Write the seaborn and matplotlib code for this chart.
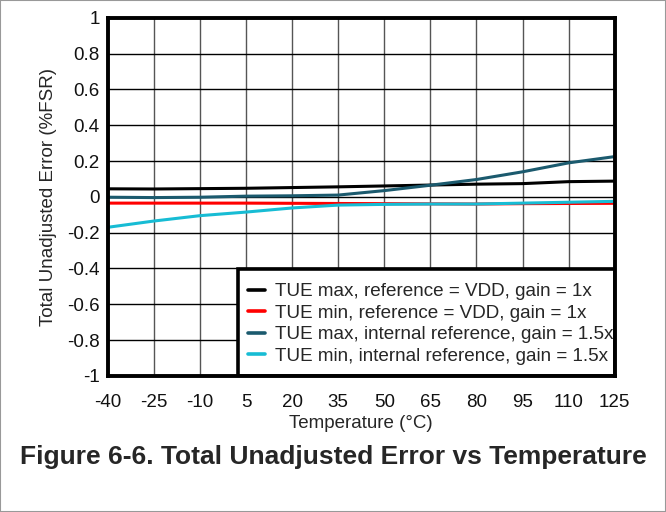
import numpy as np
import pandas as pd
import matplotlib
matplotlib.use("Agg")
import matplotlib.pyplot as plt
import seaborn as sns
from matplotlib.patches import Rectangle

temps = [-40, -25, -10, 5, 20, 35, 50, 65, 80, 95, 110, 125]
tue_max_vdd = [0.045, 0.044, 0.046, 0.048, 0.052, 0.056, 0.061, 0.066, 0.071, 0.074, 0.085, 0.088]
tue_min_vdd = [-0.035, -0.035, -0.035, -0.035, -0.036, -0.037, -0.038, -0.039, -0.040, -0.038, -0.037, -0.036]
tue_max_int = [-0.002, -0.004, -0.002, 0.004, 0.006, 0.010, 0.035, 0.065, 0.097, 0.140, 0.190, 0.225]
tue_min_int = [-0.170, -0.135, -0.105, -0.085, -0.062, -0.046, -0.042, -0.040, -0.040, -0.035, -0.030, -0.025]

labels = ["TUE max, reference = VDD, gain = 1x",
          "TUE min, reference = VDD, gain = 1x",
          "TUE max, internal reference, gain = 1.5x",
          "TUE min, internal reference, gain = 1.5x"]
colors = ["#000000", "#ff0000", "#1b5a6e", "#17bcd4"]
ytick_labels = ["-1", "-0.8", "-0.6", "-0.4", "-0.2", "0", "0.2", "0.4", "0.6", "0.8", "1"]
yticks = [-1, -0.8, -0.6, -0.4, -0.2, 0, 0.2, 0.4, 0.6, 0.8, 1]

df = pd.concat([
    pd.DataFrame({"Temperature": temps, "TUE": vals, "Series": lab})
    for vals, lab in zip([tue_max_vdd, tue_min_vdd, tue_max_int, tue_min_int], labels)
])

sns.set_theme(style="white")
plt.rcParams['font.family'] = ['Liberation Sans', 'DejaVu Sans']

fig = plt.figure(figsize=(6.66, 5.12), dpi=100)
ax = fig.add_axes([0.162, 0.266, 0.761, 0.699])

sns.lineplot(data=df, x="Temperature", y="TUE", hue="Series", hue_order=labels,
             palette=colors, linewidth=2.2, ax=ax, legend=True, zorder=3)

ax.set_xlim(-40, 125)
ax.set_ylim(-1, 1)
ax.set_xticks(temps)
ax.set_xticklabels([str(t) for t in temps])
ax.set_yticks(yticks)
ax.set_yticklabels(ytick_labels)
ax.tick_params(axis='both', labelsize=13.5, length=0, colors='#111111')
ax.tick_params(axis='x', pad=13)
ax.tick_params(axis='y', pad=6)
ax.grid(True, axis='y', color='#000000', linewidth=1.0)
ax.grid(True, axis='x', color='#555555', linewidth=1.0)
ax.set_axisbelow(True)
for s in ax.spines.values():
    s.set_color('black')
    s.set_linewidth(2.8)
    s.set_zorder(6)

ax.set_xlabel("Temperature (°C)", fontsize=13.5, labelpad=3)
ax.set_ylabel("Total Unadjusted Error (%FSR)", fontsize=13.5, labelpad=7)

# legend box (white, thick black frame) in the lower-right of the plot
box = Rectangle((2.3, -1.0), 122.7, 0.598, transform=ax.transData,
                facecolor='white', edgecolor='black', linewidth=2.6, zorder=4)
ax.add_patch(box)

leg = ax.legend(loc='center left', bbox_to_anchor=(0.276, 0.145), fontsize=13.6,
                frameon=False, handlelength=0.9, handletextpad=0.55,
                borderpad=0.0, labelspacing=0.22, borderaxespad=0.0)
leg.set_zorder(5)
for line in leg.get_lines():
    line.set_linewidth(2.6)

fig.text(0.5, 0.107, "Figure 6-6. Total Unadjusted Error vs Temperature",
         ha='center', va='center', fontsize=19, fontweight='bold')

fig.patches.append(Rectangle((0.0, 0.0), 1.0, 1.0, transform=fig.transFigure,
                             fill=False, edgecolor='#999999', linewidth=1.5, zorder=10))

fig.savefig("out.png", dpi=100)
